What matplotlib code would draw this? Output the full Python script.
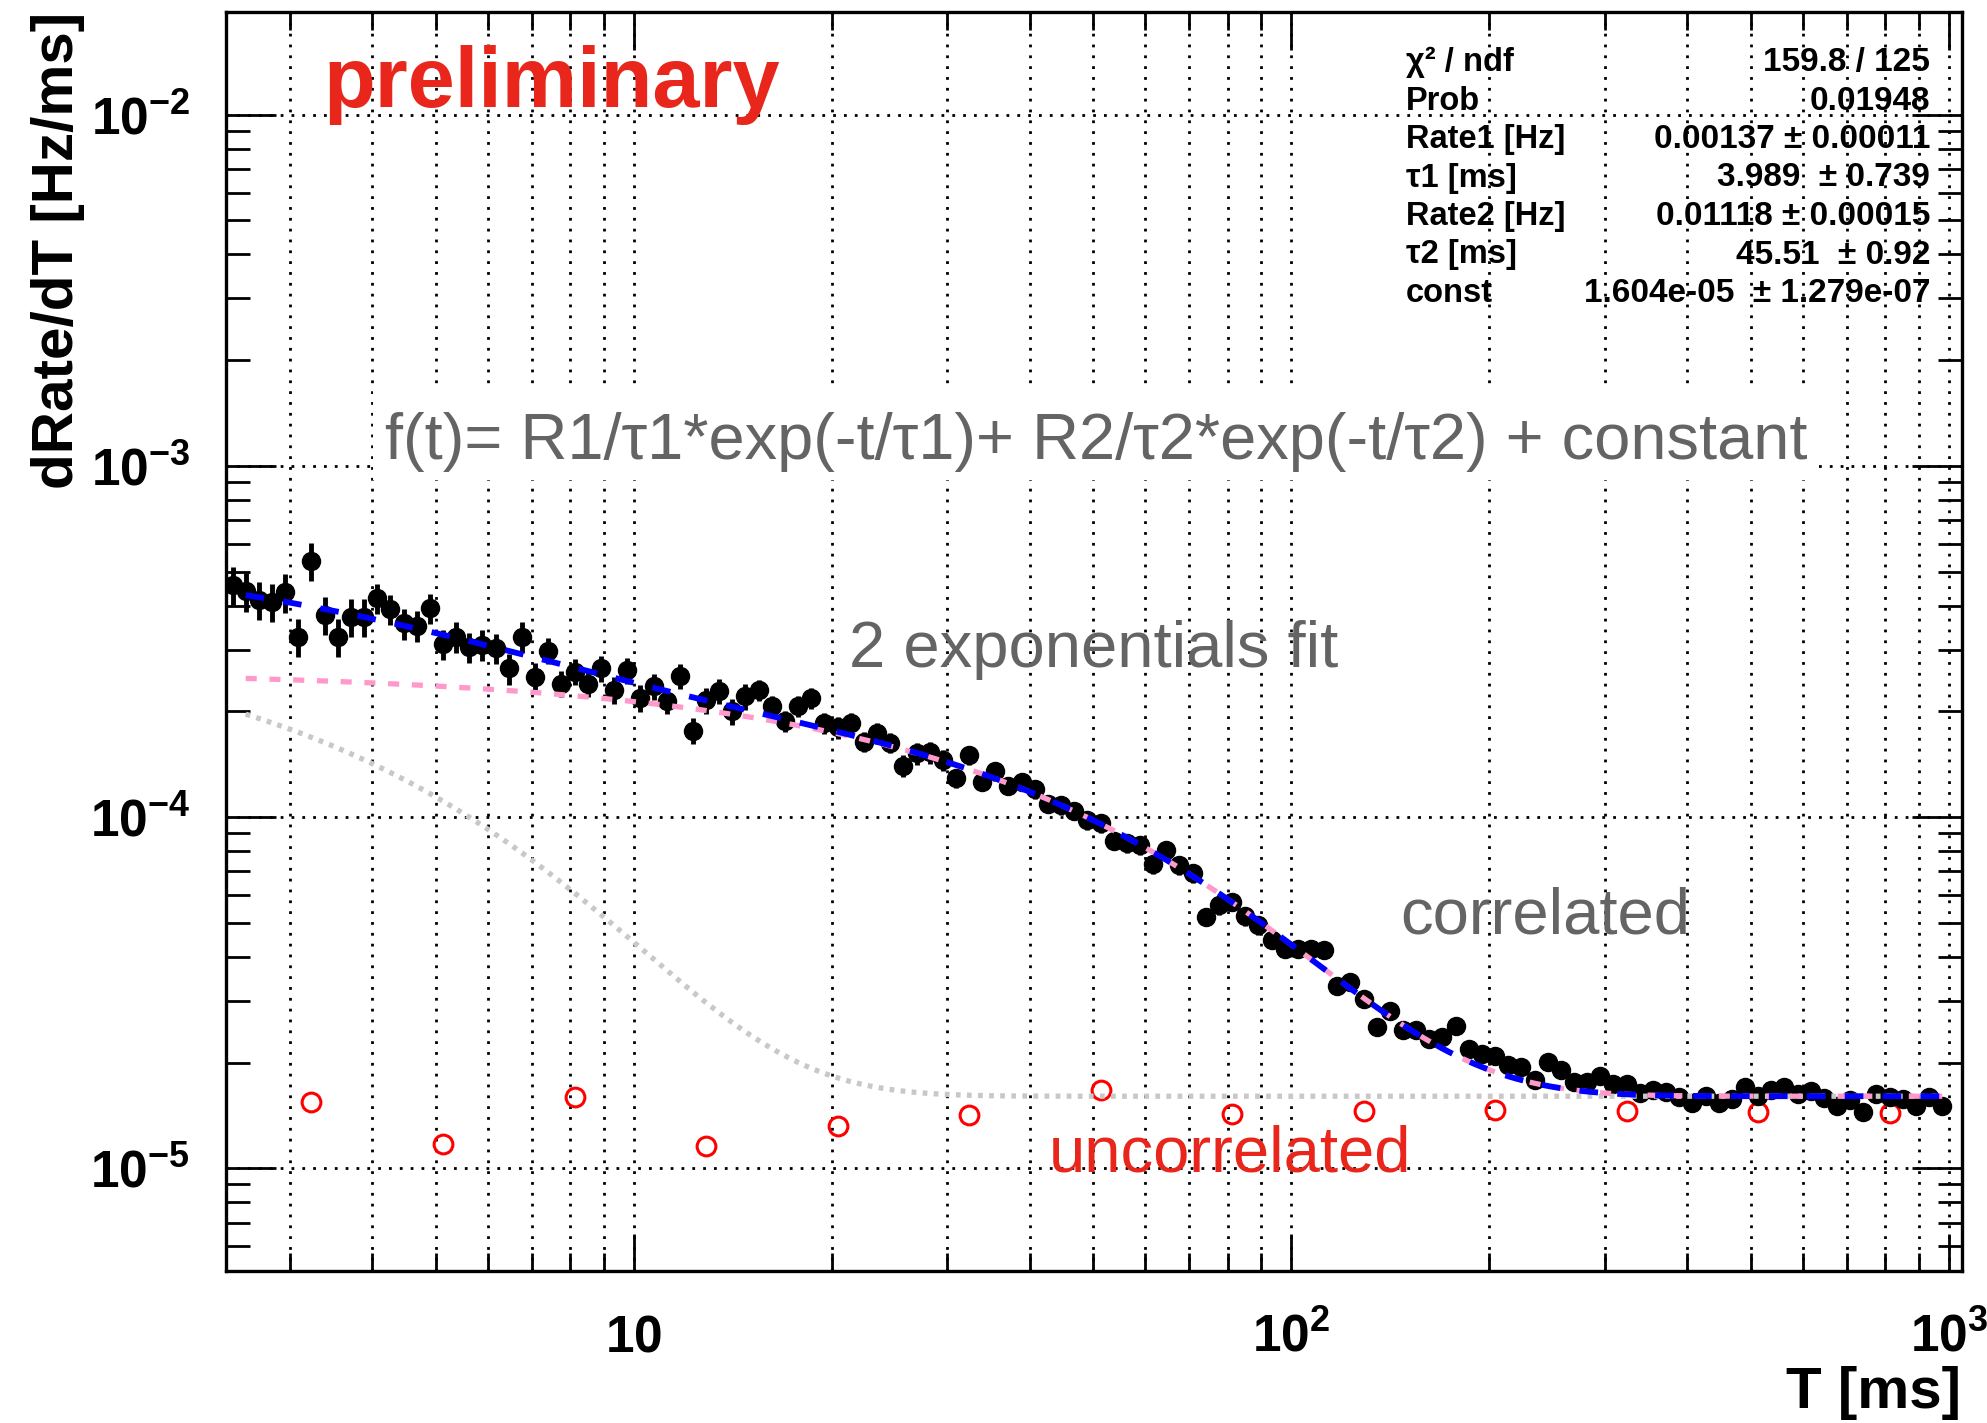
import numpy as np
import matplotlib
matplotlib.use("Agg")
import matplotlib.pyplot as plt
from matplotlib.patches import Rectangle
from matplotlib.ticker import FixedLocator, LogLocator, NullFormatter

plt.rcParams['font.family'] = ['Liberation Sans', 'DejaVu Sans']
plt.rcParams['mathtext.fontset'] = 'custom'
plt.rcParams['mathtext.rm'] = 'Liberation Sans'
plt.rcParams['mathtext.bf'] = 'Liberation Sans:bold'
plt.rcParams['mathtext.it'] = 'Liberation Sans:italic'

# bin centres [ms]
T_ms = [
    2.455, 2.570, 2.692, 2.818, 2.951, 3.090, 3.236, 3.388, 3.548, 3.715,
    3.890, 4.074, 4.266, 4.467, 4.677, 4.898, 5.129, 5.370, 5.623, 5.888,
    6.166, 6.457, 6.761, 7.079, 7.413, 7.762, 8.128, 8.511, 8.913, 9.333,
    9.772,
    10.23, 10.72, 11.22, 11.75, 12.30, 12.88, 13.49, 14.13, 14.79, 15.49,
    16.22, 16.98, 17.78, 18.62, 19.50, 20.42, 21.38, 22.39, 23.44, 24.55,
    25.70, 26.92, 28.18, 29.51, 30.90, 32.36, 33.88, 35.48, 37.15, 38.90,
    40.74, 42.66, 44.67, 46.77, 48.98, 51.29, 53.70, 56.23, 58.88, 61.66,
    64.57, 67.61, 70.79, 74.13, 77.62, 81.28, 85.11, 89.13, 93.33, 97.72,
    102.3, 107.2, 112.2, 117.5, 123.0, 128.8, 134.9, 141.3, 147.9, 154.9,
    162.2, 169.8, 177.8, 186.2, 195.0, 204.2, 213.8, 223.9, 234.4, 245.5,
    257.0, 269.2, 281.8, 295.1, 309.0, 323.6, 338.8, 354.8, 371.5, 389.0,
    407.4, 426.6, 446.7, 467.7, 489.8, 512.9, 537.0, 562.3, 588.8, 616.6,
    645.7, 676.1, 707.9, 741.3, 776.2, 812.8, 851.1, 891.3, 933.3, 977.2,
]

# dRate/dT in units of 1e-5 Hz/ms
rate = [
    45.8, 43.9, 41.5, 41.0, 43.7, 32.6, 53.7, 37.6, 32.6, 37.1,
    37.1, 42.0, 39.1, 35.6, 35.1, 39.3, 31.1, 32.6, 30.4, 30.9,
    30.3, 26.5, 32.6, 25.0, 29.8, 24.0, 25.9, 24.0, 26.5, 23.0,
    26.2, 21.8, 23.6, 21.4, 25.2, 17.6, 21.5, 22.9, 20.0, 22.1,
    23.0, 20.7, 18.8, 20.7, 21.8, 18.5, 18.0, 18.5, 16.4, 17.3,
    16.3, 14.0, 15.2, 15.3, 14.5, 12.9, 15.0, 12.6, 13.5, 12.3,
    12.6, 12.0, 10.9, 10.8, 10.4, 9.8, 9.6, 8.55, 8.41, 8.32,
    7.33, 8.05, 7.30, 6.93, 5.20, 5.61, 5.74, 5.22, 4.92, 4.48,
    4.22, 4.22, 4.20, 4.18, 3.30, 3.40, 3.04, 2.53, 2.80, 2.47,
    2.48, 2.33, 2.36, 2.54, 2.18, 2.11, 2.09, 1.97, 1.94, 1.78,
    2.01, 1.91, 1.76, 1.76, 1.83, 1.74, 1.74, 1.64, 1.67, 1.65,
    1.60, 1.53, 1.61, 1.53, 1.57, 1.70, 1.61, 1.67, 1.70, 1.63,
    1.66, 1.59, 1.50, 1.56, 1.45, 1.63, 1.60, 1.57, 1.50, 1.60,
    1.50,
]

rate_err = [
    5.7, 5.5, 5.2, 5.1, 5.5, 4.1, 6.7, 4.7, 4.1, 4.6,
    4.6, 4.2, 3.9, 3.6, 3.5, 3.9, 3.1, 3.3, 3.0, 3.1,
    3.0, 2.7, 3.3, 2.5, 2.5, 2.0, 2.2, 2.0, 2.3, 2.0,
    2.2, 1.9, 2.0, 1.8, 2.1, 1.5, 1.8, 1.9, 1.7, 1.9,
    1.6, 1.4, 1.3, 1.4, 1.5, 1.3, 1.3, 1.3, 1.1, 1.2,
    1.1, 1.0, 1.1, 1.1, 1.0, 0.77, 0.90, 0.76, 0.81, 0.74,
    0.76, 0.72, 0.65, 0.65, 0.62, 0.59, 0.58, 0.51, 0.50, 0.50,
    0.44, 0.48, 0.44, 0.42, 0.31, 0.34, 0.34, 0.31, 0.30, 0.27,
    0.21, 0.21, 0.21, 0.21, 0.17, 0.17, 0.15, 0.13, 0.14, 0.12,
    0.12, 0.12, 0.12, 0.13, 0.11, 0.11, 0.10, 0.10, 0.10, 0.09,
    0.10, 0.10, 0.09, 0.09, 0.09, 0.07, 0.07, 0.07, 0.07, 0.07,
    0.07, 0.07, 0.07, 0.07, 0.07, 0.07, 0.07, 0.07, 0.07, 0.07,
    0.07, 0.07, 0.07, 0.07, 0.07, 0.07, 0.07, 0.07, 0.07, 0.07,
    0.07,
]

# uncorrelated (accidental) rate, 1e-5 Hz/ms
T_unc = [3.236, 5.129, 8.128, 12.88, 20.42, 32.36, 51.29, 81.28, 128.8,
         204.2, 323.6, 512.9, 812.8]
rate_unc = [1.54, 1.17, 1.60, 1.16, 1.32, 1.42, 1.67, 1.43, 1.46,
            1.47, 1.46, 1.45, 1.44]

# fit results
R1, tau1 = 0.00137, 3.989
R2, tau2 = 0.01118, 45.51
const = 1.604e-05
fit_range = (2.57, 977.2)

stat_names = ["χ² / ndf", "Prob", "Rate1 [Hz]", "τ1 [ms]", "Rate2 [Hz]",
              "τ2 [ms]", "const"]
stat_vals = ["159.8 / 125", "0.01948", "0.00137 ± 0.00011",
             "3.989  ± 0.739", "0.01118 ± 0.00015", "45.51  ± 0.92",
             "1.604e-05  ± 1.279e-07"]

W, H = 1987, 1423


def fx(px):
    return px / W


def fy(py):
    return 1 - py / H


fig = plt.figure(figsize=(W / 100, H / 100), dpi=100)
fig.patch.set_facecolor("white")
ax = fig.add_axes([fx(226), fy(1271), fx(1962) - fx(226), fy(12) - fy(1271)])
ax.set_xscale("log")
ax.set_yscale("log")
ax.set_xlim(10 ** 0.38, 10 ** 3.02)
ax.set_ylim(5.1e-6, 1.96e-2)

scale = 1e-5
ax.errorbar(T_ms, np.array(rate) * scale, yerr=np.array(rate_err) * scale,
            fmt="o", color="black", ms=13, elinewidth=3.5, capsize=0,
            zorder=3)
ax.plot(T_unc, np.array(rate_unc) * scale, "o", mfc="none", mec="red",
        ms=13.5, mew=2.2, zorder=3)

t = np.geomspace(fit_range[0], fit_range[1], 800)
fast = R1 / tau1 * np.exp(-t / tau1)
slow = R2 / tau2 * np.exp(-t / tau2)
ax.plot(t, fast + const, color="#c8c8c8", lw=3.8, dashes=(0.9, 1.2), zorder=4)
ax.plot(t, slow + const, color="#ff99cc", lw=3.8, dashes=(2.1, 2.4), zorder=5)
ax.plot(t, fast + slow + const, color="#0000ff", lw=4.2, dashes=(3.2, 3.3),
        zorder=6)

# axes, ticks, grid
ax.xaxis.set_major_locator(FixedLocator([10, 100, 1000]))
ax.xaxis.set_minor_locator(LogLocator(base=10, subs=np.arange(2, 10), numticks=20))
ax.xaxis.set_minor_formatter(NullFormatter())
ax.set_xticks([10, 100, 1000])
ax.set_xticklabels([r"$\mathbf{10}$", r"$\mathbf{10^{2}}$", r"$\mathbf{10^{3}}$"])
ax.yaxis.set_major_locator(FixedLocator([1e-5, 1e-4, 1e-3, 1e-2]))
ax.yaxis.set_minor_locator(LogLocator(base=10, subs=np.arange(2, 10), numticks=20))
ax.yaxis.set_minor_formatter(NullFormatter())
ax.set_yticks([1e-5, 1e-4, 1e-3, 1e-2])
ax.set_yticklabels([r"$\mathbf{10^{-5}}$", r"$\mathbf{10^{-4}}$",
                    r"$\mathbf{10^{-3}}$", r"$\mathbf{10^{-2}}$"])

ax.tick_params(which="both", direction="in", top=True, right=True,
               width=2, color="black", labelsize=37)
ax.tick_params(axis="x", which="major", length=27, pad=58)
ax.tick_params(axis="x", which="minor", length=13)
ax.tick_params(axis="y", which="major", length=36, pad=26)
ax.tick_params(axis="y", which="minor", length=17)
for lab in ax.get_xticklabels():
    lab.set_verticalalignment("baseline")

ax.grid(True, which="both", axis="x", color="black", lw=2,
        linestyle=(0, (1, 2.9)))
ax.grid(True, which="major", axis="y", color="black", lw=2,
        linestyle=(0, (1, 2.9)))
for sp in ax.spines.values():
    sp.set_linewidth(2.4)

fig.text(fx(58), fy(12), "dRate/dT [Hz/ms]", rotation=90, ha="center",
         va="top", fontsize=42, fontweight="bold")
fig.text(fx(1961), fy(1366), "T [ms]", ha="right", va="top", fontsize=42,
         fontweight="bold")

# stats box
for i, (name, val) in enumerate(zip(stat_names, stat_vals)):
    yb = 71 + 38.5 * i
    fig.text(fx(1406), fy(yb), name, ha="left", va="baseline", fontsize=23.5,
             fontweight="bold")
    fig.text(fx(1930), fy(yb), val, ha="right", va="baseline", fontsize=24,
             fontweight="bold")

# labels
grey = "#646464"
red_txt = "#e8261c"
fig.text(fx(323), fy(107), "preliminary", ha="left", va="baseline",
         fontsize=61, fontweight="bold", color=red_txt)
fig.patches.append(Rectangle((fx(373), fy(480)), fx(1815) - fx(373),
                             fy(390) - fy(480), transform=fig.transFigure,
                             facecolor="white", edgecolor="none", zorder=3))
fig.text(fx(385), fy(459), "f(t)= R1/τ1*exp(-t/τ1)+ R2/τ2*exp(-t/τ2) + constant",
         ha="left", va="baseline", fontsize=46.8, color=grey, zorder=4)
fig.text(fx(849), fy(667), "2 exponentials fit", ha="left", va="baseline",
         fontsize=47, color=grey)
fig.text(fx(1400), fy(933), "correlated", ha="left", va="baseline",
         fontsize=47, color=grey)
fig.text(fx(1049), fy(1171), "uncorrelated", ha="left", va="baseline",
         fontsize=47, color=red_txt)

fig.savefig("out.png", dpi=100, facecolor="white")
